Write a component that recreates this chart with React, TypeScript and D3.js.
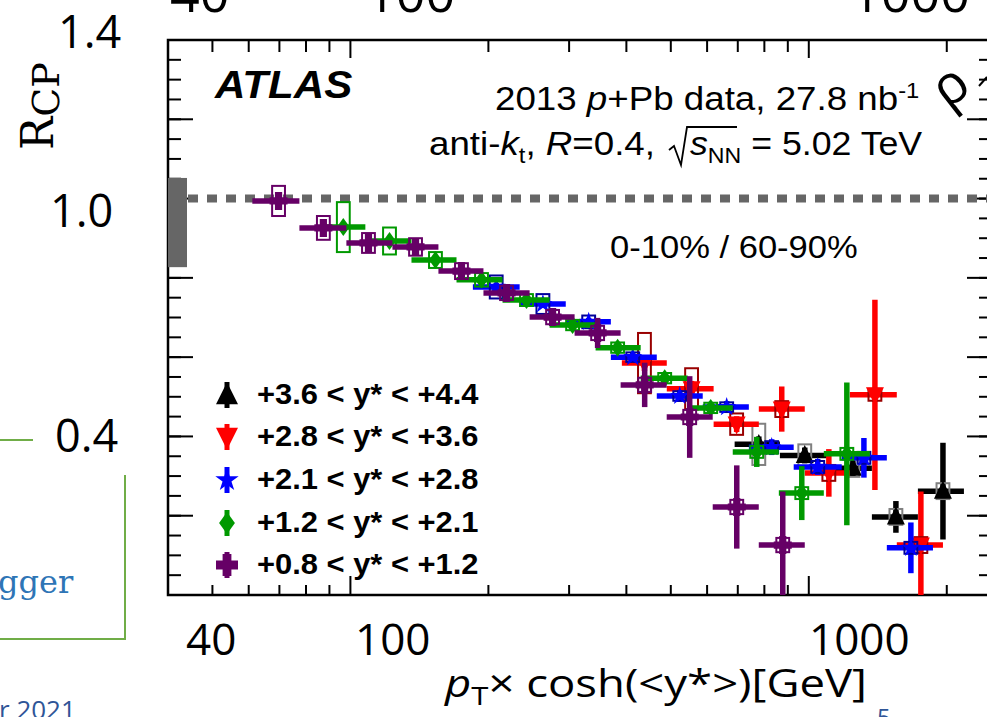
import React from 'react';
import * as d3 from 'd3';

const WIDTH = 987;
const HEIGHT = 717;

// Plot frame of the ATLAS panel (right edge runs just past the page)
const FRAME = { left: 168, right: 990, top: 40, bottom: 595 };

const X_DOMAIN: [number, number] = [40, 2485];
const Y_DOMAIN: [number, number] = [0, 1.4];

const xMajorTicks = [100, 1000];
const xMinorTicks = [40, 50, 60, 70, 80, 90, 200, 300, 400, 500, 600, 700, 800, 900, 2000];
const yMajorTicks = [0, 0.2, 0.4, 0.6, 0.8, 1.0, 1.2, 1.4];
const yMinorTicks = d3.range(0, 29).map((i) => i * 0.05);

// Normalisation (T_AB) uncertainty band around unity
const normBand = [0.827, 1.052];
const unity = 1.0;

const seriesLabels = [
  '+3.6 < y* < +4.4',
  '+2.8 < y* < +3.6',
  '+2.1 < y* < +2.8',
  '+1.2 < y* < +2.1',
  '+0.8 < y* < +1.2',
];

// +3.6 < y* < +4.4
const blackX = [778, 980, 1248, 1549, 1962];
const blackLo = [689, 865, 1095, 1373, 1730];
const blackHi = [865, 1095, 1373, 1730, 2180];
const blackY = [0.38, 0.352, 0.32, 0.197, 0.262];
const blackErr = [0.02, 0.02, 0.02, 0.04, 0.122];
const blackSys = [0.052, 0.028, 0.022, 0.02, 0.02];

// +2.8 < y* < +3.6
const redX = [438, 555, 696, 873, 1106, 1394, 1756];
const redLo = [391, 490, 620, 778, 980, 1229, 1556];
const redHi = [490, 620, 778, 980, 1229, 1556, 1962];
const redY = [0.585, 0.52, 0.431, 0.469, 0.308, 0.505, 0.126];
const redErr = [0.02, 0.02, 0.02, 0.057, 0.06, 0.24, 0.135];
const redSys = [0.076, 0.052, 0.027, 0.02, 0.02, 0.015, 0.02];

// +2.1 < y* < +2.8
const blueX = [208, 263, 331, 413, 523, 662, 830, 1046, 1319, 1670];
const blueLo = [185, 234, 295, 370, 466, 587, 740, 927, 1180, 1480];
const blueHi = [234, 295, 370, 466, 587, 740, 927, 1180, 1480, 1866];
const blueY = [0.777, 0.734, 0.689, 0.6, 0.502, 0.474, 0.373, 0.323, 0.346, 0.119];
const blueErr = [0.01, 0.01, 0.01, 0.012, 0.015, 0.015, 0.02, 0.02, 0.05, 0.064];
const blueSys = [0.029, 0.025, 0.016, 0.012, 0.012, 0.012, 0.015, 0.015, 0.015, 0.015];

// +1.2 < y* < +2.1
const greenX = [96.5, 121.7, 153.3, 193.2, 242.2, 305.3, 382.8, 484.9, 611.0, 770.0, 965.4, 1210.6];
const greenLo = [86.0, 107.8, 135.9, 170.4, 214.7, 272.0, 342.7, 429.8, 544.2, 682.5, 860.3, 1078.4];
const greenHi = [107.8, 135.9, 170.4, 214.7, 272.0, 342.7, 429.8, 544.2, 682.5, 860.3, 1078.4, 1359];
const greenY = [0.928, 0.893, 0.845, 0.795, 0.744, 0.681, 0.624, 0.547, 0.472, 0.361, 0.257, 0.356];
const greenErr = [0.01, 0.01, 0.01, 0.01, 0.01, 0.01, 0.012, 0.015, 0.015, 0.038, 0.068, 0.18];
const greenSys = [0.063, 0.034, 0.02, 0.017, 0.015, 0.013, 0.013, 0.013, 0.013, 0.015, 0.015, 0.015];

// +0.8 < y* < +1.2
const purpleX = [69.7, 87.3, 109.5, 138.7, 174.7, 219.1, 276.1, 346.2, 438.5, 549.8, 696.4, 877.4];
const purpleLo = [61.1, 77.4, 98.0, 123.5, 155.6, 195.1, 246.0, 308.4, 388.6, 489.8, 617.2, 777.8];
const purpleHi = [77.4, 98.0, 123.5, 155.6, 195.1, 246.0, 308.4, 388.6, 489.8, 617.2, 777.8, 980];
const purpleY = [0.994, 0.926, 0.888, 0.878, 0.817, 0.762, 0.701, 0.661, 0.53, 0.449, 0.222, 0.126];
const purpleErr = [0.012, 0.012, 0.012, 0.012, 0.015, 0.015, 0.02, 0.038, 0.056, 0.103, 0.105, 0.135];
const purpleSys = [0.038, 0.03, 0.025, 0.022, 0.02, 0.018, 0.018, 0.018, 0.018, 0.018, 0.018, 0.018];

type Shape = 'triUp' | 'triDown' | 'star' | 'diamond' | 'cross';

interface Series {
  label: string;
  color: string;
  boxColor: string;
  shape: Shape;
  x: number[];
  lo: number[];
  hi: number[];
  y: number[];
  err: number[];
  sys: number[];
}

const SERIES: Series[] = [
  { label: seriesLabels[0], color: '#000000', boxColor: '#808080', shape: 'triUp', x: blackX, lo: blackLo, hi: blackHi, y: blackY, err: blackErr, sys: blackSys },
  { label: seriesLabels[1], color: '#ff0000', boxColor: '#990000', shape: 'triDown', x: redX, lo: redLo, hi: redHi, y: redY, err: redErr, sys: redSys },
  { label: seriesLabels[2], color: '#0000ff', boxColor: '#000099', shape: 'star', x: blueX, lo: blueLo, hi: blueHi, y: blueY, err: blueErr, sys: blueSys },
  { label: seriesLabels[3], color: '#009900', boxColor: '#009900', shape: 'diamond', x: greenX, lo: greenLo, hi: greenHi, y: greenY, err: greenErr, sys: greenSys },
  { label: seriesLabels[4], color: '#660066', boxColor: '#660066', shape: 'cross', x: purpleX, lo: purpleLo, hi: purpleHi, y: purpleY, err: purpleErr, sys: purpleSys },
];

// half-width of systematic boxes, in decades of the log axis
const BOX_HALF_DEX = 0.014;

function markerPath(shape: Shape, s: number): string {
  switch (shape) {
    case 'triUp':
      return `M0,${-s * 0.58}L${s * 0.5},${s * 0.42}L${-s * 0.5},${s * 0.42}Z`;
    case 'triDown':
      return `M0,${s * 0.58}L${s * 0.5},${-s * 0.42}L${-s * 0.5},${-s * 0.42}Z`;
    case 'star':
      return d3.symbol(d3.symbolStar, s * s * 0.35)() as string;
    case 'diamond':
      return `M0,${-s * 0.5}L${s * 0.36},0L0,${s * 0.5}L${-s * 0.36},0Z`;
    case 'cross': {
      const a = s * 0.5;
      const t = s * 0.2;
      return `M${-t},${-a}H${t}V${-t}H${a}V${t}H${t}V${a}H${-t}V${t}H${-a}V${-t}H${-t}Z`;
    }
  }
  return '';
}

const SANS = "'Liberation Sans', Arial, Helvetica, sans-serif";
const SLIDE = "'Open Sans', 'Noto Sans', sans-serif";
const STRETCH = 1.08;

export default function App() {
  const x = d3.scaleLog().domain(X_DOMAIN).range([FRAME.left, FRAME.right]);
  const y = d3.scaleLinear().domain(Y_DOMAIN).range([FRAME.bottom, FRAME.top]);
  const boxK = Math.pow(10, BOX_HALF_DEX);

  const legendX = 227;
  const legendRows = [395, 437, 480, 523, 565];

  return (
    <svg
      width={WIDTH}
      height={HEIGHT}
      viewBox={`0 0 ${WIDTH} ${HEIGHT}`}
      style={{ position: 'absolute', left: 0, top: 0, background: '#fff' }}
    >
      <defs>
        <clipPath id="plot-area">
          <rect x={FRAME.left} y={FRAME.top} width={FRAME.right - FRAME.left} height={FRAME.bottom - FRAME.top} />
        </clipPath>
      </defs>
      <rect x={0} y={0} width={WIDTH} height={HEIGHT} fill="#fff" />

      {/* axis ticks */}
      <g stroke="#000" strokeWidth={2}>
        {yMinorTicks.map((v, i) => (
          <g key={`ym${i}`}>
            <line x1={FRAME.left} x2={FRAME.left + 13} y1={y(v)} y2={y(v)} />
            <line x1={FRAME.right} x2={FRAME.right - 11} y1={y(v)} y2={y(v)} />
          </g>
        ))}
        {yMajorTicks.map((v, i) => (
          <g key={`yM${i}`}>
            <line x1={FRAME.left} x2={FRAME.left + 25} y1={y(v)} y2={y(v)} />
            <line x1={FRAME.right} x2={FRAME.right - 23} y1={y(v)} y2={y(v)} />
          </g>
        ))}
        {xMinorTicks.map((v, i) => (
          <g key={`xm${i}`}>
            <line x1={x(v)} x2={x(v)} y1={FRAME.bottom} y2={FRAME.bottom - 10} />
            <line x1={x(v)} x2={x(v)} y1={FRAME.top} y2={FRAME.top + 12} />
          </g>
        ))}
        {xMajorTicks.map((v, i) => (
          <g key={`xM${i}`}>
            <line x1={x(v)} x2={x(v)} y1={FRAME.bottom} y2={FRAME.bottom - 19} />
            <line x1={x(v)} x2={x(v)} y1={FRAME.top} y2={FRAME.top + 18} />
          </g>
        ))}
      </g>
      <rect
        x={FRAME.left}
        y={FRAME.top}
        width={FRAME.right - FRAME.left}
        height={FRAME.bottom - FRAME.top}
        fill="none"
        stroke="#000"
        strokeWidth={2.5}
      />

      {/* normalisation band and unity line */}
      <rect x={FRAME.left} y={y(normBand[1])} width={19} height={y(normBand[0]) - y(normBand[1])} fill="#666" />
      <line
        x1={FRAME.left + 20}
        x2={FRAME.right}
        y1={y(unity)}
        y2={y(unity)}
        stroke="#666"
        strokeWidth={8}
        strokeDasharray="10 9"
      />

      {/* data */}
      <g clipPath="url(#plot-area)">
        {SERIES.map((s, si) => (
          <g key={`s${si}`}>
            {s.x.map((xv, i) => (
              <g key={`b${i}`} stroke={s.color} strokeWidth={5.5}>
                <line x1={x(s.lo[i])} x2={x(s.hi[i])} y1={y(s.y[i])} y2={y(s.y[i])} />
                <line x1={x(xv)} x2={x(xv)} y1={y(s.y[i] - s.err[i])} y2={y(s.y[i] + s.err[i])} />
              </g>
            ))}
            {s.x.map((xv, i) => (
              <rect
                key={`r${i}`}
                x={x(xv / boxK)}
                y={y(s.y[i] + s.sys[i])}
                width={x(xv * boxK) - x(xv / boxK)}
                height={y(s.y[i] - s.sys[i]) - y(s.y[i] + s.sys[i])}
                fill="none"
                stroke={s.boxColor}
                strokeWidth={2}
              />
            ))}
            {s.x.map((xv, i) => (
              <path
                key={`m${i}`}
                d={markerPath(s.shape, 18)}
                transform={`translate(${x(xv)},${y(s.y[i])})`}
                fill={s.color}
              />
            ))}
          </g>
        ))}
      </g>

      {/* legend */}
      {SERIES.map((s, i) => (
        <g key={`lg${i}`}>
          <line x1={legendX} x2={legendX} y1={legendRows[i] - 13} y2={legendRows[i] + 13} stroke={s.color} strokeWidth={5} />
          <path d={markerPath(s.shape, 22)} transform={`translate(${legendX},${legendRows[i]})`} fill={s.color} />
          <text
            transform={`translate(257,${legendRows[i] + 9}) scale(${STRETCH},1)`}
            fontFamily={SANS}
            fontWeight="bold"
            fontSize={28.6}
            fill="#000"
          >
            {s.label}
          </text>
        </g>
      ))}

      {/* ATLAS labels */}
      <text
        transform={`translate(215,98) scale(${STRETCH},1)`}
        fontFamily={SANS}
        fontWeight="bold"
        fontStyle="italic"
        fontSize={39}
      >
        ATLAS
      </text>
      <text transform={`translate(495,110) scale(${STRETCH},1)`} fontFamily={SANS} fontSize={34}>
        2013 <tspan fontStyle="italic">p</tspan>+Pb data, 27.8 nb
        <tspan dy={-12} fontSize={22}>-1</tspan>
      </text>
      <text transform={`translate(429,155) scale(${STRETCH},1)`} fontFamily={SANS} fontSize={34}>
        anti-<tspan fontStyle="italic">k</tspan>
        <tspan dy={8} fontSize={22}>t</tspan>
        <tspan dy={-8}>, </tspan>
        <tspan fontStyle="italic">R</tspan>=0.4,
      </text>
      <path d="M669,150 L674,146 L681,165 L687,127 L737,127" fill="none" stroke="#000" strokeWidth={1.8} />
      <text transform="translate(690,155) scale(1.05,1)" fontFamily={SANS} fontSize={34}>
        <tspan fontStyle="italic">s</tspan>
        <tspan dy={8} fontSize={22}>NN</tspan>
        <tspan dy={-8}> = 5.02 TeV</tspan>
      </text>
      <text transform={`translate(610,258) scale(${STRETCH},1)`} fontFamily={SANS} fontSize={32}>
        0-10% / 60-90%
      </text>

      {/* slide overlay: axis labels */}
      <g fontFamily={SLIDE} fill="#000">
        <text x={170} y={12} fontSize={52}>40</text>
        <text x={366} y={12} fontSize={52}>100</text>
        <text x={851} y={12} fontSize={52}>1000</text>
        <text x={58} y={48} fontSize={45}>1.4</text>
        <text x={50} y={227} fontSize={45}>1.0</text>
        <text x={55} y={452} fontSize={45}>0.4</text>
        <text x={186} y={655} fontSize={44}>40</text>
        <text x={355} y={655} fontSize={44}>100</text>
        <text x={809} y={655} fontSize={44}>1000</text>
        <text x={445} y={697} fontSize={38} textLength={422} lengthAdjust="spacingAndGlyphs">
          <tspan fontStyle="italic">p</tspan>
          <tspan dy={8} fontSize={26}>T</tspan>
          <tspan dy={-8}>× cosh(&lt;y*&gt;)[GeV]</tspan>
        </text>
      </g>
      <text transform="translate(53,150) rotate(-90)" fontFamily="'DejaVu Serif', serif" fontSize={44} fill="#000">
        R<tspan dy={6} fontSize={38}>CP</tspan>
      </text>
      <text transform="translate(948,110) rotate(-38)" fontFamily={SLIDE} fontSize={54} fill="#000">ρ</text>
      <line x1={979} y1={86} x2={987} y2={77} stroke="#000" strokeWidth={2} />

      {/* slide overlay: frame lines and footer */}
      <g stroke="#70ad47" strokeWidth={2} fill="none">
        <line x1={0} x2={33} y1={440} y2={440} />
        <polyline points="125,475 125,639 0,639" />
      </g>
      <text x={-2} y={593} fontFamily="'DejaVu Serif', serif" fontSize={32} fill="#2e75b6">gger</text>
      <text x={-1} y={719} fontFamily={SLIDE} fontSize={26} fill="#2f5597">r 2021</text>
      <text x={877} y={726} fontFamily={SLIDE} fontSize={24} fill="#2f5597">5</text>
    </svg>
  );
}
